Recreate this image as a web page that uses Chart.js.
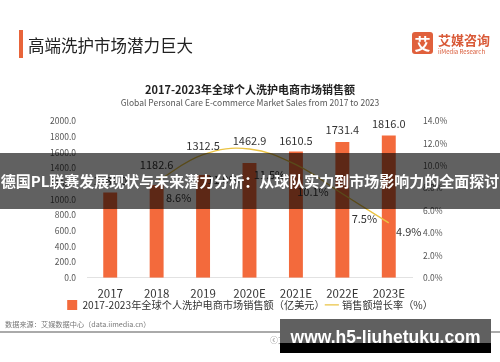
<!DOCTYPE html>
<html>
<head>
<meta charset="utf-8">
<script src="https://cdn.jsdelivr.net/npm/chart.js@4.4.1/dist/chart.umd.min.js"></script>
<style>
  html, body { margin: 0; padding: 0; background: #fff; }
  body { width: 500px; height: 362px; position: relative; overflow: hidden;
         font-family: "Noto Sans CJK SC", "Noto Sans", sans-serif; }
  .abs { position: absolute; white-space: nowrap; }
  #chartBox { position: absolute; left: 0; top: 0; width: 500px; height: 362px; }
  #headBar { left: 19px; top: 30px; width: 4px; height: 28px; background: #e8643a; }
  #headTitle { left: 28px; top: 33px; font-size: 16.5px; line-height: 24px; color: #222; }
  #logoBox { left: 412px; top: 32px; width: 21px; height: 22px; background: #e0603c; border-radius: 3px;
             color: #fff; font-size: 16px; font-weight: bold; line-height: 22px; text-align: center; }
  #logoCn { left: 438px; top: 32px; font-size: 13px; line-height: 16px; font-weight: bold; color: #d95a38; }
  #logoEn { left: 438px; top: 48px; font-size: 6px; line-height: 7px; color: #d95a38; }
  #title { left: 0; width: 500px; top: 81px; text-align: center; font-size: 11px; line-height: 16px;
           font-weight: bold; color: #222; }
  #subtitle { left: 0; width: 500px; top: 96px; text-align: center; font-size: 8.5px; line-height: 12px; color: #555; }
  #banner { left: 0; top: 153px; width: 500px; height: 56px; background: rgba(0,0,0,0.62);
            color: #fff; font-size: 15px; font-weight: bold; line-height: 56px; text-align: center; }
  #source { left: 5px; top: 319px; font-size: 7.2px; line-height: 11px; color: #777; }
  #rule { left: 0; top: 331px; width: 500px; height: 1.5px; background: #aaa; }
  #copy { left: 270px; top: 334px; font-size: 8px; line-height: 11px; color: #888; }
  #mark { left: 280px; top: 319px; width: 211px; height: 34px; background: #606060; }
  #markBottom { left: 280px; top: 343px; width: 211px; height: 10px; background: #000; }
  #markText { left: 280px; top: 326px; width: 211px; text-align: center; font-family: "Liberation Sans", Arial, sans-serif;
              font-weight: bold; font-size: 17.5px; line-height: 22px; color: #fff; }
</style>
</head>
<body>
<div id="chartBox"><canvas id="salesChart" width="500" height="362"></canvas></div>

<div class="abs" id="headBar"></div>
<div class="abs" id="headTitle">高端洗护市场潜力巨大</div>
<div class="abs" id="logoBox">艾</div>
<div class="abs" id="logoCn">艾媒咨询</div>
<div class="abs" id="logoEn">iiMedia Research</div>
<div class="abs" id="title">2017-2023年全球个人洗护电商市场销售额</div>
<div class="abs" id="subtitle">Global Personal Care E-commerce Market Sales from 2017 to 2023</div>

<div class="abs" id="banner">德国PL联赛发展现状与未来潜力分析：从球队实力到市场影响力的全面探讨</div>

<div class="abs" id="source">数据来源：艾媒数据中心（data.iimedia.cn）</div>
<div class="abs" id="rule"></div>
<div class="abs" id="copy">ⓒ艾媒咨询</div>
<div class="abs" id="mark"></div>
<div class="abs" id="markBottom"></div>
<div class="abs" id="markText">www.h5-liuhetuku.com</div>

<script>
// data
const years  = ["2017", "2018", "2019", "2020E", "2021E", "2022E", "2023E"];
const sales  = [1089.0, 1182.6, 1312.5, 1462.9, 1610.5, 1731.4, 1816.0];
const growth = [null, 8.6, 11.0, 11.5, 10.1, 7.5, 4.9];

const salesTicks  = [0, 200, 400, 600, 800, 1000, 1200, 1400, 1600, 1800, 2000];
const growthTicks = [0, 2, 4, 6, 8, 10, 12, 14];

const salesName  = "2017-2023年全球个人洗护电商市场销售额（亿美元）";
const growthName = "销售额增长率（%）";

// label placement (pixels relative to the mark)
const barLabelDy  = [-12, -20, -29, -22, -11, -12, -12];
const lineLabelDx = [0, 22, 20, 20, 17, 22, 20];
const lineLabelDy = [0, 16, 25, 26, 27, 25, 9];

const FONT = '"Noto Sans CJK SC", "Noto Sans", sans-serif';

const valueLabels = {
  id: "valueLabels",
  afterDatasetsDraw(chart) {
    const ctx = chart.ctx;
    ctx.save();
    ctx.fillStyle = "#333";
    ctx.textAlign = "center";
    ctx.textBaseline = "middle";
    ctx.font = "11px " + FONT;
    chart.getDatasetMeta(0).data.forEach((bar, i) => {
      ctx.fillText(sales[i].toFixed(1), bar.x, bar.y + barLabelDy[i]);
    });
    chart.getDatasetMeta(1).data.forEach((pt, i) => {
      if (growth[i] == null) return;
      ctx.fillText(growth[i].toFixed(1) + "%", pt.x + lineLabelDx[i], pt.y + lineLabelDy[i]);
    });
    ctx.restore();
  }
};

const ctx = document.getElementById("salesChart").getContext("2d");
new Chart(ctx, {
  data: {
    labels: years,
    datasets: [{
      type: "bar",
      label: salesName,
      data: sales,
      yAxisID: "y",
      backgroundColor: "#f36a3c",
      barPercentage: 0.3,
      categoryPercentage: 1,
      pointStyle: "rect",
      order: 2
    }, {
      type: "line",
      label: growthName,
      data: growth,
      yAxisID: "y1",
      borderColor: "#eac344",
      backgroundColor: "#eac344",
      borderWidth: 1.3,
      pointRadius: 0,
      pointStyle: "line",
      tension: 0.4,
      fill: false,
      order: 1
    }]
  },
  options: {
    responsive: false,
    animation: false,
    layout: { padding: { left: 0, right: 0, top: 121, bottom: 42 } },
    plugins: {
      tooltip: { enabled: false },
      legend: {
        position: "bottom",
        labels: {
          usePointStyle: true,
          boxHeight: 10,
          padding: 2,
          color: "#333",
          font: { family: FONT, size: 10.2 },
          sort: (a, b) => a.datasetIndex - b.datasetIndex
        }
      }
    },
    scales: {
      x: {
        grid: { display: false, drawTicks: false },
        border: { display: true, color: "#e2e2e2", width: 1 },
        ticks: { color: "#333", padding: 9, font: { family: FONT, size: 11.5 } },
        afterFit(scale) { scale.height = 20; }
      },
      y: {
        position: "left",
        min: 0, max: 2000,
        afterBuildTicks(scale) { scale.ticks = salesTicks.map(v => ({ value: v })); },
        grid: { display: false, drawTicks: false },
        border: { display: false },
        ticks: { color: "#555", padding: 11, font: { family: FONT, size: 8.5 },
                 callback: v => v.toFixed(1) },
        afterFit(scale) { scale.width = 87; }
      },
      y1: {
        position: "right",
        min: 0, max: 14,
        afterBuildTicks(scale) { scale.ticks = growthTicks.map(v => ({ value: v })); },
        grid: { display: false, drawTicks: false },
        border: { display: false },
        ticks: { color: "#555", padding: 11, font: { family: FONT, size: 8.5 },
                 callback: v => v.toFixed(1) + "%" },
        afterFit(scale) { scale.width = 88; }
      }
    }
  },
  plugins: [valueLabels]
});
</script>
</body>
</html>
